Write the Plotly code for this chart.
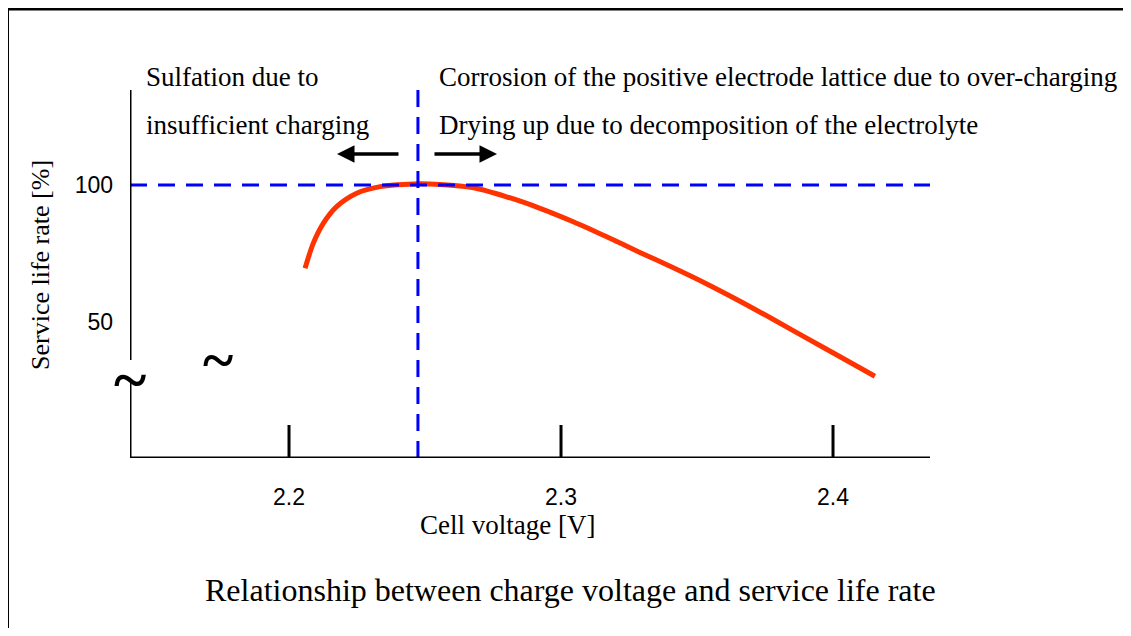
import plotly.graph_objects as go

# Data
voltage = [2.2059, 2.2089, 2.2126, 2.2175, 2.2249, 2.2335, 2.2457, 2.2555, 2.2678,
           2.2800, 2.2923, 2.3045, 2.3168, 2.3290, 2.3413, 2.3536, 2.3658,
           2.3781, 2.3903, 2.4026, 2.4154]
life_rate = [69.6, 78.7, 86.0, 92.1, 97.0, 99.4, 100.4, 100.2, 99.0,
             95.7, 91.5, 86.6, 81.1, 75.4, 69.8, 63.9, 57.6,
             50.9, 44.1, 37.3, 30.2]
x_ticks = [2.2, 2.3, 2.4]
x_tick_labels = ["2.2", "2.3", "2.4"]
y_ticks = [50, 100]
y_tick_labels = ["50", "100"]
optimum_voltage = 2.2474
reference_rate = 100

X_MIN, X_MAX = 2.14154, 2.43566
Y_MIN, Y_MAX = 0.365, 134.67

# page body has an 8px margin; figure is offset by it
OFF = 8
W, H = 1131 - 2 * OFF, 636 - 2 * OFF
L, T = 130 - OFF, 90 - OFF
R = W - (930 - OFF)
B = H - (458 - OFF)
PW, PH = W - L - R, H - T - B


def px(x):
    return (x - OFF - L) / PW


def py(y):
    return (H - B - (y - OFF)) / PH


SERIF = "Liberation Serif, Times New Roman, serif"
SANS = "Liberation Sans, Arial, sans-serif"

fig = go.Figure()
fig.add_trace(go.Scatter(
    x=voltage, y=life_rate, mode="lines",
    line=dict(color="#FF3300", width=5, shape="spline", smoothing=0.8),
    hoverinfo="skip", showlegend=False,
))

shapes = []
# blue dashed reference lines
shapes.append(dict(type="line", xref="x", yref="y", x0=X_MIN, x1=X_MAX,
                   y0=reference_rate, y1=reference_rate,
                   line=dict(color="#0000FF", width=3, dash="17px,11px")))
shapes.append(dict(type="line", xref="x", yref="y", x0=optimum_voltage, x1=optimum_voltage,
                   y0=Y_MIN, y1=Y_MAX,
                   line=dict(color="#0000FF", width=3, dash="17px,10px")))
# axes
shapes.append(dict(type="line", xref="x", yref="y", x0=X_MIN, x1=X_MAX, y0=Y_MIN, y1=Y_MIN,
                   line=dict(color="black", width=3)))
shapes.append(dict(type="line", xref="x", yref="paper", x0=X_MIN, x1=X_MIN,
                   y0=py(360), y1=1, line=dict(color="black", width=3)))
shapes.append(dict(type="line", xref="x", yref="paper", x0=X_MIN, x1=X_MIN,
                   y0=0, y1=py(383), line=dict(color="black", width=3)))
# upward ticks
for xt in x_ticks:
    shapes.append(dict(type="line", xref="x", yref="paper", x0=xt, x1=xt,
                       y0=0, y1=py(425), line=dict(color="black", width=3)))
# frame (left and top edges visible)
shapes.append(dict(type="rect", xref="paper", yref="paper",
                   x0=px(7.5), x1=px(1150), y0=py(660), y1=py(9),
                   line=dict(color="black", width=3)))

annotations = []


def text(s, x, y, size, xanchor="left", font=SERIF, angle=0):
    annotations.append(dict(text=s, x=px(x), y=py(y), xref="paper", yref="paper",
                            showarrow=False, xanchor=xanchor, yanchor="middle",
                            textangle=angle,
                            font=dict(family=font, size=size, color="black")))


text("Sulfation due to", 144, 77, 27)
text("insufficient charging", 144, 125, 27)
text("Corrosion of the positive electrode lattice due to over-charging", 437, 77, 27)
text("Drying up due to decomposition of the electrolyte", 437, 125, 27)
text("Cell voltage [V]", 507, 525, 27, xanchor="center")
text("Relationship between charge voltage and service life rate", 570, 590, 32, xanchor="center")
text("Service life rate [%]", 40, 265, 26, xanchor="center", angle=-90)
text("<b>~</b>", 130, 379, 62, xanchor="center")
text("<b>~</b>", 218, 359, 58, xanchor="center")

# arrows
annotations.append(dict(x=px(337), y=py(154), ax=63, ay=0,
                        xref="paper", yref="paper",
                        text="", showarrow=True, arrowhead=2, arrowsize=1.0,
                        arrowwidth=3.5, arrowcolor="black"))
annotations.append(dict(x=px(497), y=py(154), ax=-64, ay=0,
                        xref="paper", yref="paper",
                        text="", showarrow=True, arrowhead=2, arrowsize=1.0,
                        arrowwidth=3.5, arrowcolor="black"))

fig.update_layout(
    width=W, height=H,
    margin=dict(l=L, r=R, t=T, b=B, pad=0),
    paper_bgcolor="white", plot_bgcolor="white",
    showlegend=False,
    shapes=shapes, annotations=annotations,
    xaxis=dict(range=[X_MIN, X_MAX], tickvals=x_ticks, ticktext=x_tick_labels,
               showgrid=False, zeroline=False, showline=False, ticks="",
               ticklabelstandoff=23,
               tickfont=dict(family=SANS, size=23, color="black")),
    yaxis=dict(range=[Y_MIN, Y_MAX], tickvals=y_ticks, ticktext=y_tick_labels,
               showgrid=False, zeroline=False, showline=False, ticks="",
               ticklabelstandoff=16,
               tickfont=dict(family=SANS, size=23, color="black")),
)

fig.write_html("out.html")
